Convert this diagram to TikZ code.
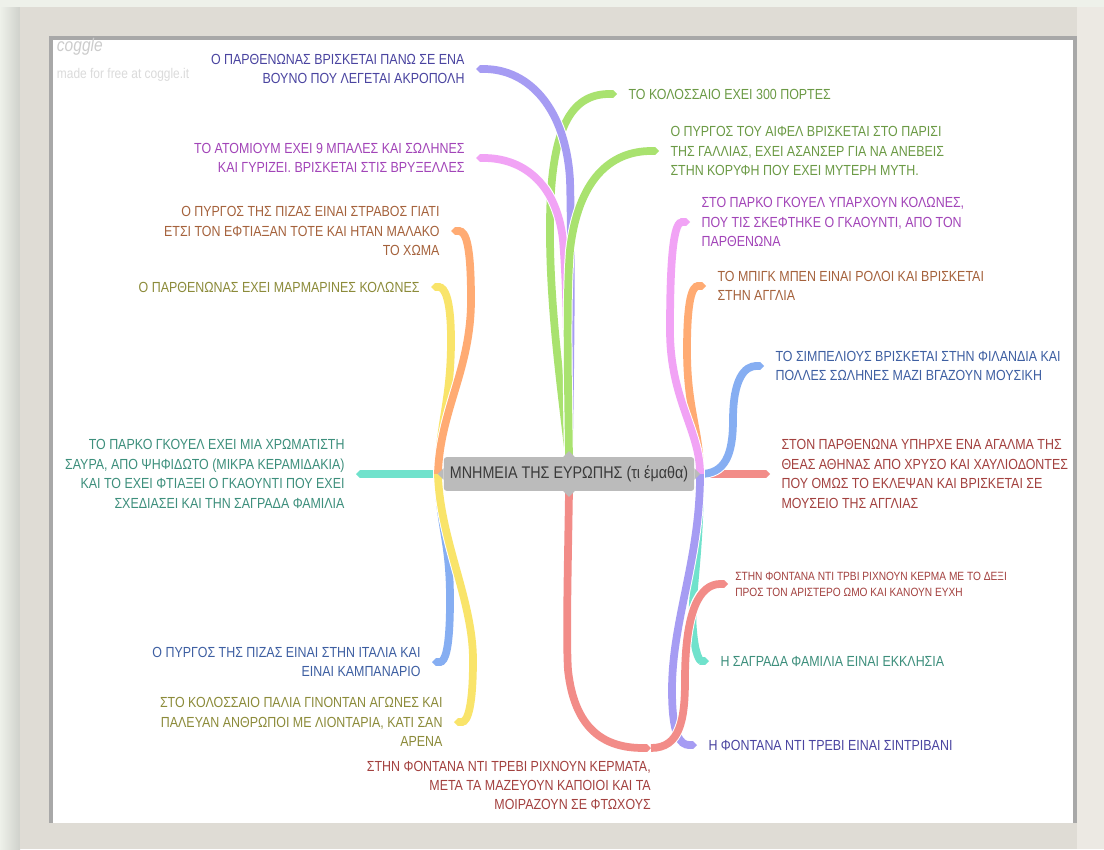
\documentclass[tikz,border=0pt]{standalone}
\usepackage{fontspec}
\setmainfont{Liberation Sans}[FakeStretch=0.85]
\usetikzlibrary{positioning,arrows.meta}

\definecolor{paper}{HTML}{EEF1EA}
\definecolor{shadowC}{HTML}{CFD1CB}
\definecolor{frameC}{HTML}{DFDCD5}
\definecolor{frameR}{HTML}{ECE9E3}
\definecolor{bevelC}{HTML}{A8A8A8}
\definecolor{rootC}{HTML}{BBBBBB}
\definecolor{rootT}{HTML}{3A3A3A}
\definecolor{lnPurple}{HTML}{A69CF3}
\definecolor{lnGreen}{HTML}{A9E26F}
\definecolor{lnPink}{HTML}{F1A3F5}
\definecolor{lnOrange}{HTML}{FFAB73}
\definecolor{lnYellow}{HTML}{F9E46A}
\definecolor{lnTeal}{HTML}{70E2CC}
\definecolor{lnBlue}{HTML}{86AEF2}
\definecolor{lnRed}{HTML}{F28C88}
\definecolor{txPurple}{HTML}{4A44A0}
\definecolor{txGreen}{HTML}{6B9A45}
\definecolor{txPink}{HTML}{A244B8}
\definecolor{txOrange}{HTML}{A5623C}
\definecolor{txYellow}{HTML}{8C8B3A}
\definecolor{txTeal}{HTML}{3D8F7C}
\definecolor{txBlue}{HTML}{3E5FA2}
\definecolor{txRed}{HTML}{A3413F}

\pgfdeclarelayer{front}
\pgfsetlayers{main,front}

\tikzset{
  branch/.style={line width=5.5pt, -{Triangle Cap}, preaction={draw=white, line width=6.9pt}},
  leaf/.style={inner sep=0pt, font=\fontsize{10.4}{13.8}\selectfont},
  leafL/.style={leaf, align=right},
  leafR/.style={leaf, align=left},
  rootbox/.style={fill=rootC, rounded corners=2pt, minimum width=178pt, minimum height=24pt,
    inner sep=0pt, text=rootT, font=\fontsize{12}{14}\selectfont},
}

\begin{document}
\begin{tikzpicture}[x=0.025cm, y=-0.025cm, node distance=8pt]
\useasboundingbox (0,0) rectangle (1104,849);
\fill[paper] (0,0) rectangle (1104,849);
\shade[left color=paper, right color=shadowC] (0,7) rectangle (20,849);
\fill[frameC] (20,7) rectangle (1104,849);
\fill[frameR] (1077,7) rectangle (1104,849);
\fill[bevelC] (49,36) rectangle (1077,823);
\fill[white] (53,40) rectangle (1073,823);

\node[anchor=west, text=gray!40, font=\itshape\fontsize{13}{14}\selectfont] (logo) at (52,47) {coggle};
\node[anchor=west, text=gray!28, font=\fontsize{10}{11}\selectfont] (madeby) at (52,75) {made for free at coggle.it};

\begin{pgfonlayer}{front}
\node[rootbox] (root) at (569,474) {ΜΝΗΜΕΙΑ ΤΗΣ ΕΥΡΩΠΗΣ (τι έμαθα)};
\fill[rootC] ([xshift=-4pt]root.north) -- ([yshift=4pt]root.north) -- ([xshift=4pt]root.north) -- cycle;
\fill[rootC] ([xshift=-4pt]root.south) -- ([yshift=-4pt]root.south) -- ([xshift=4pt]root.south) -- cycle;
\fill[rootC] ([yshift=4pt]root.west) -- ([xshift=-4pt]root.west) -- ([yshift=-4pt]root.west) -- cycle;
\fill[rootC] ([yshift=4pt]root.east) -- ([xshift=4pt]root.east) -- ([yshift=-4pt]root.east) -- cycle;
\end{pgfonlayer}

\coordinate (rootW) at ([xshift=-4pt]root.west);
\coordinate (rootE) at ([xshift=4pt]root.east);
\coordinate (tAcr) at (476,69);
\coordinate (tAto) at (476,158);
\coordinate (tKol) at (617,94);
\coordinate (tEif) at (659,151);
\coordinate (tPisaS) at (451,231);
\coordinate (tMarm) at (431,287);
\coordinate (tGuell) at (356,474);
\coordinate (tPisaI) at (432,662);
\coordinate (tArena) at (454,722);
\coordinate (tParkR) at (690,222);
\coordinate (tBen) at (706,286);
\coordinate (tSib) at (764,366);
\coordinate (tStat) at (770,474);
\coordinate (tSagr) at (709,661);
\coordinate (tSintr) at (697,745);
\coordinate (tTrevi) at (651,748);
\coordinate (tCoin) at (728,584);

\draw[branch, lnGreen] (root.north) .. controls (560,380) and (549,300) .. (550,220) .. controls (551,130) and (570,94) .. (tKol);
\draw[branch, lnPurple] (root.north) .. controls (570,380) and (572,250) .. (570,180) .. controls (566,110) and (530,69) .. (tAcr);
\draw[branch, lnPink] (root.north) .. controls (567,380) and (568,300) .. (563,240) .. controls (556,180) and (520,158) .. (tAto);
\draw[branch, lnGreen] (root.north) .. controls (568,380) and (566,300) .. (570,250) .. controls (578,180) and (610,151) .. (tEif);

\draw[branch, lnTeal] (rootW) -- (tGuell);
\draw[branch, lnYellow] (rootW) .. controls (440,420) and (451,400) .. (451,340) .. controls (451,300) and (445,287) .. (tMarm);
\draw[branch, lnOrange] (rootW) .. controls (440,410) and (471,370) .. (471,300) .. controls (471,245) and (466,231) .. (tPisaS);
\draw[branch, lnBlue] (rootW) .. controls (440,530) and (450,540) .. (450,600) .. controls (450,650) and (445,662) .. (tPisaI);
\draw[branch, lnYellow] (rootW) .. controls (440,540) and (473,600) .. (473,660) .. controls (473,705) and (468,722) .. (tArena);

\draw[branch, lnRed] (rootE) -- (tStat);
\draw[branch, lnBlue] (rootE) .. controls (725,474) and (733,455) .. (733,420) .. controls (733,378) and (745,366) .. (tSib);
\draw[branch, lnOrange] (rootE) .. controls (700,430) and (687,410) .. (687,350) .. controls (687,300) and (692,286) .. (tBen);
\draw[branch, lnPink] (rootE) .. controls (700,430) and (670,400) .. (670,330) .. controls (670,245) and (675,222) .. (tParkR);
\draw[branch, lnTeal] (rootE) .. controls (700,560) and (690,600) .. (693,630) .. controls (695,655) and (700,661) .. (tSagr);

\draw[branch, lnRed] (root.south) .. controls (568,560) and (566,640) .. (568,670) .. controls (575,735) and (610,748) .. (tTrevi);
\draw[branch, lnPurple] (rootE) .. controls (700,560) and (672,620) .. (672,690) .. controls (672,735) and (680,745) .. (tSintr);
\draw[branch, lnRed] (tTrevi) .. controls (680,748) and (685,720) .. (685,680) .. controls (685,610) and (700,584) .. (tCoin);

\node[leafL, text=txPurple, left=of tAcr] (acr) {Ο ΠΑΡΘΕΝΩΝΑΣ ΒΡΙΣΚΕΤΑΙ ΠΑΝΩ ΣΕ ΕΝΑ\\ΒΟΥΝΟ ΠΟΥ ΛΕΓΕΤΑΙ ΑΚΡΟΠΟΛΗ};
\node[leafL, text=txPink, left=of tAto] (ato) {ΤΟ ΑΤΟΜΙΟΥΜ ΕΧΕΙ 9 ΜΠΑΛΕΣ ΚΑΙ ΣΩΛΗΝΕΣ\\ΚΑΙ ΓΥΡΙΖΕΙ. ΒΡΙΣΚΕΤΑΙ ΣΤΙΣ ΒΡΥΞΕΛΛΕΣ};
\node[leafL, text=txOrange, left=of tPisaS] (pisaS) {Ο ΠΥΡΓΟΣ ΤΗΣ ΠΙΖΑΣ ΕΙΝΑΙ ΣΤΡΑΒΟΣ ΓΙΑΤΙ\\ΕΤΣΙ ΤΟΝ ΕΦΤΙΑΞΑΝ ΤΟΤΕ ΚΑΙ ΗΤΑΝ ΜΑΛΑΚΟ\\ΤΟ ΧΩΜΑ};
\node[leafL, text=txYellow, left=of tMarm] (marm) {Ο ΠΑΡΘΕΝΩΝΑΣ ΕΧΕΙ ΜΑΡΜΑΡΙΝΕΣ ΚΟΛΩΝΕΣ};
\node[leafL, text=txTeal, left=of tGuell] (guell) {ΤΟ ΠΑΡΚΟ ΓΚΟΥΕΛ ΕΧΕΙ ΜΙΑ ΧΡΩΜΑΤΙΣΤΗ\\ΣΑΥΡΑ, ΑΠΟ ΨΗΦΙΔΩΤΟ (ΜΙΚΡΑ ΚΕΡΑΜΙΔΑΚΙΑ)\\ΚΑΙ ΤΟ ΕΧΕΙ ΦΤΙΑΞΕΙ Ο ΓΚΑΟΥΝΤΙ ΠΟΥ ΕΧΕΙ\\ΣΧΕΔΙΑΣΕΙ ΚΑΙ ΤΗΝ ΣΑΓΡΑΔΑ ΦΑΜΙΛΙΑ};
\node[leafL, text=txBlue, left=of tPisaI] (pisaI) {Ο ΠΥΡΓΟΣ ΤΗΣ ΠΙΖΑΣ ΕΙΝΑΙ ΣΤΗΝ ΙΤΑΛΙΑ ΚΑΙ\\ΕΙΝΑΙ ΚΑΜΠΑΝΑΡΙΟ};
\node[leafL, text=txYellow, left=of tArena] (arena) {ΣΤΟ ΚΟΛΟΣΣΑΙΟ ΠΑΛΙΑ ΓΙΝΟΝΤΑΝ ΑΓΩΝΕΣ ΚΑΙ\\ΠΑΛΕΥΑΝ ΑΝΘΡΩΠΟΙ ΜΕ ΛΙΟΝΤΑΡΙΑ, ΚΑΤΙ ΣΑΝ\\ΑΡΕΝΑ};
\node[leafL, text=txRed, below left=9pt and 0pt of tTrevi] (trevi) {ΣΤΗΝ ΦΟΝΤΑΝΑ ΝΤΙ ΤΡΕΒΙ ΡΙΧΝΟΥΝ ΚΕΡΜΑΤΑ,\\ΜΕΤΑ ΤΑ ΜΑΖΕΥΟΥΝ ΚΑΠΟΙΟΙ ΚΑΙ ΤΑ\\ΜΟΙΡΑΖΟΥΝ ΣΕ ΦΤΩΧΟΥΣ};

\node[leafR, text=txGreen, right=of tKol] (kol) {ΤΟ ΚΟΛΟΣΣΑΙΟ ΕΧΕΙ 300 ΠΟΡΤΕΣ};
\node[leafR, text=txGreen, right=of tEif] (eif) {Ο ΠΥΡΓΟΣ ΤΟΥ ΑΙΦΕΛ ΒΡΙΣΚΕΤΑΙ ΣΤΟ ΠΑΡΙΣΙ\\ΤΗΣ ΓΑΛΛΙΑΣ, ΕΧΕΙ ΑΣΑΝΣΕΡ ΓΙΑ ΝΑ ΑΝΕΒΕΙΣ\\ΣΤΗΝ ΚΟΡΥΦΗ ΠΟΥ ΕΧΕΙ ΜΥΤΕΡΗ ΜΥΤΗ.};
\node[leafR, text=txPink, right=of tParkR] (parkR) {ΣΤΟ ΠΑΡΚΟ ΓΚΟΥΕΛ ΥΠΑΡΧΟΥΝ ΚΟΛΩΝΕΣ,\\ΠΟΥ ΤΙΣ ΣΚΕΦΤΗΚΕ Ο ΓΚΑΟΥΝΤΙ, ΑΠΟ ΤΟΝ\\ΠΑΡΘΕΝΩΝΑ};
\node[leafR, text=txOrange, right=of tBen] (ben) {ΤΟ ΜΠΙΓΚ ΜΠΕΝ ΕΙΝΑΙ ΡΟΛΟΙ ΚΑΙ ΒΡΙΣΚΕΤΑΙ\\ΣΤΗΝ ΑΓΓΛΙΑ};
\node[leafR, text=txBlue, right=of tSib] (sib) {ΤΟ ΣΙΜΠΕΛΙΟΥΣ ΒΡΙΣΚΕΤΑΙ ΣΤΗΝ ΦΙΛΑΝΔΙΑ ΚΑΙ\\ΠΟΛΛΕΣ ΣΩΛΗΝΕΣ ΜΑΖΙ ΒΓΑΖΟΥΝ ΜΟΥΣΙΚΗ};
\node[leafR, text=txRed, right=of tStat] (stat) {ΣΤΟΝ ΠΑΡΘΕΝΩΝΑ ΥΠΗΡΧΕ ΕΝΑ ΑΓΑΛΜΑ ΤΗΣ\\ΘΕΑΣ ΑΘΗΝΑΣ ΑΠΟ ΧΡΥΣΟ ΚΑΙ ΧΑΥΛΙΟΔΟΝΤΕΣ\\ΠΟΥ ΟΜΩΣ ΤΟ ΕΚΛΕΨΑΝ ΚΑΙ ΒΡΙΣΚΕΤΑΙ ΣΕ\\ΜΟΥΣΕΙΟ ΤΗΣ ΑΓΓΛΙΑΣ};
\node[leafR, text=txRed, right=5pt of tCoin, font=\fontsize{8.5}{11.3}\selectfont] (coin) {ΣΤΗΝ ΦΟΝΤΑΝΑ ΝΤΙ ΤΡΒΙ ΡΙΧΝΟΥΝ ΚΕΡΜΑ ΜΕ ΤΟ ΔΕΞΙ\\ΠΡΟΣ ΤΟΝ ΑΡΙΣΤΕΡΟ ΩΜΟ ΚΑΙ ΚΑΝΟΥΝ ΕΥΧΗ};
\node[leafR, text=txTeal, right=of tSagr] (sagr) {Η ΣΑΓΡΑΔΑ ΦΑΜΙΛΙΑ ΕΙΝΑΙ ΕΚΚΛΗΣΙΑ};
\node[leafR, text=txPurple, right=of tSintr] (sintr) {Η ΦΟΝΤΑΝΑ ΝΤΙ ΤΡΕΒΙ ΕΙΝΑΙ ΣΙΝΤΡΙΒΑΝΙ};
\end{tikzpicture}
\end{document}
